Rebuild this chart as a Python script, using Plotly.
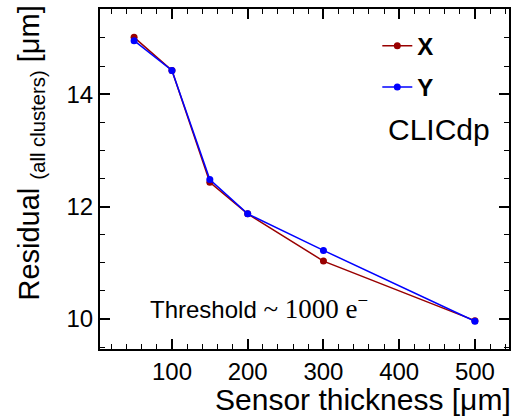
import plotly.graph_objects as go

thickness = [50, 100, 150, 200, 300, 500]
residual_x = [15.01, 14.42, 12.43, 11.87, 11.03, 9.97]
residual_y = [14.95, 14.42, 12.48, 11.87, 11.22, 9.96]

RED = "#990000"
BLUE = "#0000ff"
FONT = "Liberation Sans, Arial, Helvetica, sans-serif"
SERIF = "Liberation Serif, Times New Roman, serif"

fig = go.Figure()
fig.add_trace(go.Scatter(x=thickness, y=residual_x, mode="lines+markers", name="<b>X</b>",
                         line=dict(color=RED, width=1.5), marker=dict(color=RED, size=7),
                         legendgroup="x"))
fig.add_trace(go.Scatter(x=thickness, y=residual_y, mode="lines+markers", name="<b>Y</b>",
                         line=dict(color=BLUE, width=1.5), marker=dict(color=BLUE, size=7),
                         legendgroup="y"))

axis_common = dict(
    showgrid=False, zeroline=False, showline=True, linecolor="black", linewidth=2,
    mirror="ticks", ticks="inside", ticklen=10, tickwidth=1.5, tickcolor="black",
    tickfont=dict(family=FONT, size=24, color="black"),
)

fig.update_layout(
    width=518, height=419,
    margin=dict(l=100, r=8, t=7, b=70),
    paper_bgcolor="white", plot_bgcolor="white",
    font=dict(family=FONT, color="black"),
    xaxis=dict(range=[5, 545], dtick=100, tick0=0,
               minor=dict(dtick=20, tick0=0, ticks="inside", ticklen=5, tickwidth=1.2, tickcolor="black"),
               **axis_common),
    yaxis=dict(range=[9.466, 15.514], dtick=2, tick0=0,
               minor=dict(dtick=0.5, tick0=0, ticks="inside", ticklen=5, tickwidth=1.2, tickcolor="black"),
               **axis_common),
    legend=dict(x=0.678, y=0.957, xanchor="left", yanchor="top", bgcolor="rgba(0,0,0,0)",
                font=dict(family=FONT, size=24, color="black"), itemwidth=30,
                tracegroupgap=7),
    showlegend=True,
)

fig.add_annotation(text="Sensor thickness [μm]", xref="paper", yref="paper",
                   x=1.01, y=-0.149, xanchor="right", yanchor="middle", showarrow=False,
                   font=dict(family=FONT, size=30, color="black"))
fig.add_annotation(text="Residual <sub>(all clusters)</sub> [μm]",
                   xref="paper", yref="paper", x=-0.171, y=0.575, xanchor="center", yanchor="middle",
                   textangle=-90, showarrow=False,
                   font=dict(family=FONT, size=29, color="black"))
fig.add_annotation(text="CLICdp", xref="paper", yref="paper", x=0.9585, y=0.646,
                   xanchor="right", yanchor="middle", showarrow=False,
                   font=dict(family=FONT, size=30, color="black"))
fig.add_annotation(text="Threshold <span style='font-family:" + SERIF + "; font-size:27px'>~ 1000 e<sup>−</sup></span>",
                   xref="paper", yref="paper", x=0.117, y=0.124,
                   xanchor="left", yanchor="middle", showarrow=False,
                   font=dict(family=FONT, size=24, color="black"))

fig.write_html("out.html", config={"displayModeBar": False},
               post_script="document.body.style.margin='0px';")
